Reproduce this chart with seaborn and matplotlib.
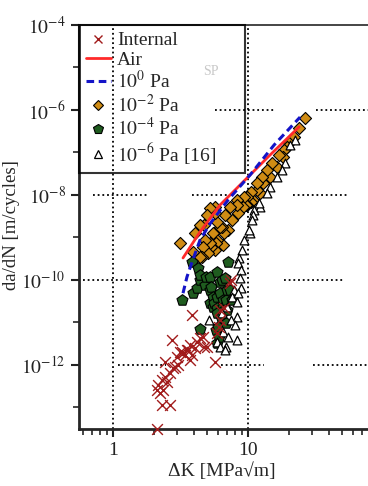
import matplotlib
matplotlib.use("Agg")
import matplotlib.pyplot as plt
import numpy as np
import pandas as pd
import seaborn as sns
from matplotlib.lines import Line2D
from matplotlib.ticker import FixedLocator, NullFormatter

# Internal cracks (crosses)
internal_dk = [2.12, 2.31, 2.64, 2.12, 2.23, 2.35, 2.15, 2.31, 2.43, 2.51, 2.64, 2.74,
               2.43, 2.78, 2.88, 3.03, 2.98, 3.14, 3.24, 3.41, 3.30, 3.53, 3.59, 3.72,
               3.72, 3.85, 3.85, 4.05, 4.19, 4.41, 4.64, 4.97, 4.72, 5.70, 5.89, 6.10,
               6.20, 6.20, 6.64, 7.36, 7.48]
internal_dadn = [3.1e-14, 1.15e-13, 1.15e-13, 2.6e-13, 2.2e-13, 2.6e-13, 3.4e-13, 4.4e-13,
                 5.2e-13, 4.0e-13, 6.5e-13, 3.9e-12, 1.18e-12, 8.5e-13, 9.0e-13, 1.0e-12,
                 1.54e-12, 2.0e-12, 2.0e-12, 1.72e-12, 1.9e-12, 2.25e-12, 2.25e-12, 3.0e-12,
                 1.31e-12, 1.72e-12, 1.5e-11, 2.5e-12, 3.5e-12, 4.3e-12, 4.6e-12, 2.65e-12,
                 2.65e-12, 1.18e-12, 5.7e-12, 7.8e-12, 2.0e-11, 1.15e-11, 2.2e-11, 8.5e-11,
                 1.0e-10]

# Air (solid red line)
air_dk = [3.30, 4.41, 6.20, 9.50, 14.55, 23.9]
air_dadn = [3.3e-10, 1.35e-9, 5.8e-9, 2.25e-8, 8.7e-8, 4.0e-7]

# 10^0 Pa (dashed blue line)
p0_dk = [3.30, 3.53, 3.85, 4.41, 5.23, 7.11, 10.35, 15.6, 24.3]
p0_dadn = [4.9e-11, 1.18e-10, 2.65e-10, 8.7e-10, 2.1e-9, 7.6e-9, 2.95e-8, 1.5e-7, 6.8e-7]

# 10^-2 Pa (diamonds)
p2_dk = [26.4, 23.9, 21.9, 20.1, 19.5, 18.5, 18.2, 17.0, 16.4, 15.1, 14.6, 13.8, 12.9,
         12.7, 12.3, 11.7, 11.7, 10.9, 10.5, 10.5, 9.84, 9.84, 9.67, 9.34, 9.18, 8.43,
         8.29, 8.29, 7.61, 7.36, 7.11, 6.76, 6.64, 6.53, 6.42, 6.20, 5.89, 5.89, 5.79,
         5.70, 5.70, 5.70, 5.50, 5.32, 5.23, 5.23, 5.05, 4.97, 4.80, 4.72, 4.64, 4.56,
         4.41, 4.41, 4.05, 3.91, 3.14]
p2_dadn = [6.5e-7, 3.8e-7, 2.3e-7, 1.7e-7, 1.35e-7, 1.15e-7, 7.8e-8, 8.7e-8, 4.6e-8,
           5.7e-8, 2.65e-8, 3.9e-8, 1.9e-8, 2.65e-8, 1.1e-8, 1.3e-8, 1.9e-8, 7.6e-9,
           1.18e-8, 6.8e-9, 9.0e-9, 5.8e-9, 5.8e-9, 9.0e-9, 5.2e-9, 3.8e-9, 7.6e-9,
           5.8e-9, 2.6e-9, 5.2e-9, 1.5e-9, 3.4e-9, 1.3e-9, 6.7e-10, 1.8e-9, 1.8e-9,
           2.3e-9, 8.7e-10, 7.4e-10, 5.2e-9, 3.8e-9, 5.1e-10, 1.3e-9, 6.0e-10, 4.9e-9,
           7.4e-10, 4.3e-10, 3.4e-9, 8.7e-10, 2.0e-9, 6.0e-10, 3.5e-10, 2.0e-9, 3.5e-10,
           1.3e-9, 4.6e-10, 7.4e-10]

# 10^-4 Pa (pentagons)
p4_dk = [3.24, 3.85, 3.91, 4.19, 4.26, 4.38, 4.41, 4.41, 4.80, 4.89, 5.23, 5.23, 5.23,
         5.32, 5.50, 5.50, 5.60, 5.79, 5.89, 5.89, 5.89, 5.89, 5.89, 6.00, 6.10, 6.20,
         6.20, 6.31, 6.42, 6.53, 6.53, 6.64, 6.76, 6.87, 6.87, 6.99, 6.99, 7.11, 7.36,
         7.61]
p4_dadn = [3.4e-11, 2.65e-10, 4.9e-11, 6.5e-11, 1.9e-10, 7.2e-12, 1.0e-10, 1.31e-10,
           7.6e-11, 1.18e-10, 1.18e-10, 5.8e-11, 2.9e-11, 6.8e-11, 4.0e-11, 2.3e-11,
           2.9e-11, 6.7e-12, 1.54e-10, 4.0e-11, 2.2e-11, 1.7e-11, 3.3e-12, 7.8e-12,
           4.6e-12, 9.0e-11, 4.9e-11, 1.35e-11, 1.0e-10, 3.4e-11, 2.3e-11, 2.0e-11,
           1.11e-10, 3.4e-11, 9.7e-12, 5.8e-11, 2.0e-11, 2.65e-10, 5.8e-11, 3.4e-11]

# 10^-6 Pa [16] (open triangles)
p6_dk = [22.3, 20.5, 18.8, 17.9, 16.4, 14.6, 13.8, 12.3, 12.1, 11.1, 10.9, 10.7, 10.35,
         10.2, 9.34, 9.03, 8.58, 8.43, 8.88, 8.72, 8.88, 7.88, 7.61, 8.43, 8.29, 6.99,
         8.29, 7.48, 6.42, 5.14, 8.01, 6.53, 7.11, 8.29, 5.89, 6.20, 6.87, 6.76]
p6_dadn = [2.0e-7, 1.5e-7, 5.7e-8, 3.9e-8, 2.65e-8, 1.54e-8, 1.1e-8, 5.2e-9, 6.5e-9,
           4.4e-9, 3.4e-9, 2.6e-9, 1.28e-9, 1.5e-9, 8.7e-10, 5.1e-10, 3.3e-10, 2.5e-10,
           1.72e-10, 1.11e-10, 6.5e-11, 5.8e-11, 4.0e-11, 4.9e-11, 3.0e-11, 2.3e-11,
           1.35e-11, 1.15e-11, 1.7e-11, 1.15e-11, 8.7e-12, 6.0e-12, 4.6e-12, 3.9e-12,
           3.5e-12, 2.65e-12, 2.65e-12, 2.25e-12]

y_major = [1e-4, 1e-6, 1e-8, 1e-10, 1e-12]
y_minor = [1e-5, 1e-7, 1e-9, 1e-11, 1e-13]
x_major = [1, 10]
x_minor = [0.6, 0.7, 0.8, 0.9, 2, 3, 4, 5, 6, 7, 8, 9, 20, 30, 40, 50, 60, 70]

c_int = '#a11c1c'
c_air = '#ff2a2a'
c_p0 = '#1414c8'
c_p2 = '#d08c14'
c_p4 = '#1f5c1f'

sns.set_style('ticks')
plt.rcParams['font.family'] = ['Liberation Serif', 'DejaVu Serif']
plt.rcParams['mathtext.fontset'] = 'stix'

fig = plt.figure(figsize=(3.68, 4.86), dpi=100)
ax = fig.add_axes([0.2147, 0.1173, 0.7853, 0.8313])
ax.set_xscale('log')
ax.set_yscale('log')
ax.set_xlim(0.56, 77.4)
ax.set_ylim(3.12e-14, 1e-4)

# dotted reference lines
for xv in x_major:
    ax.axvline(xv, color='black', ls=(0, (1, 1.6)), lw=1.3, zorder=1)
grid_segs = {1e-6: [(0.47, 0.675), (0.82, 1.0)],
             1e-8: [(0.05, 0.24), (0.39, 0.52), (0.74, 0.93)],
             1e-10: [(0.014, 0.22), (0.71, 0.92)],
             1e-12: [(0.135, 0.30), (0.49, 0.64), (0.81, 1.0)]}
for yv, segs in grid_segs.items():
    for a, b in segs:
        ax.axhline(yv, a, b, color='black', ls=(0, (1, 1.6)), lw=1.3, zorder=1)

sns.scatterplot(x=p2_dk, y=p2_dadn, ax=ax, marker='D', s=38, color=c_p2,
                edgecolor='black', linewidth=0.8, zorder=3)
sns.scatterplot(x=p4_dk, y=p4_dadn, ax=ax, marker='p', s=70, color=c_p4,
                edgecolor='black', linewidth=0.8, zorder=3)
sns.scatterplot(x=p6_dk, y=p6_dadn, ax=ax, marker='^', s=40, color='white',
                edgecolor='black', linewidth=0.9, zorder=4)
sns.scatterplot(x=internal_dk, y=internal_dadn, ax=ax, marker='x', s=60, color=c_int,
                linewidth=1.0, zorder=5, clip_on=False)
sns.lineplot(x=air_dk, y=air_dadn, ax=ax, color=c_air, lw=2.0, estimator=None,
             sort=False, zorder=6)
sns.lineplot(x=p0_dk, y=p0_dadn, ax=ax, color=c_p0, lw=2.2, estimator=None,
             sort=False, zorder=6, linestyle=(0, (2.5, 1.5)))

ax.yaxis.set_major_locator(FixedLocator(y_major))
ax.yaxis.set_minor_locator(FixedLocator(y_minor))
ax.yaxis.set_minor_formatter(NullFormatter())
ax.xaxis.set_major_locator(FixedLocator(x_major))
ax.xaxis.set_minor_locator(FixedLocator(x_minor))
ax.xaxis.set_minor_formatter(NullFormatter())
ax.set_xticklabels(['1', '10'])
ax.set_yticklabels([r'$10^{-4}$', r'$10^{-6}$', r'$10^{-8}$', r'$10^{-10}$', r'$10^{-12}$'])
ax.tick_params(which='major', length=6, width=1.5, labelsize=14, colors='#222222')
ax.tick_params(which='minor', length=4, width=1.2)

for side in ['left', 'bottom']:
    ax.spines[side].set_linewidth(2.0)
ax.spines['top'].set_linewidth(1.2)
ax.spines['right'].set_visible(False)

ax.set_xlabel('ΔK [MPa√m]', fontsize=14)
ax.set_ylabel('da/dN [m/cycles]', fontsize=13.5)
ax.xaxis.set_label_coords(0.495, -0.082)
ax.yaxis.set_label_coords(-0.205, 0.505)

handles = [
    Line2D([], [], marker='x', color=c_int, ls='none', ms=6, mew=1.0),
    Line2D([], [], color=c_air, lw=2.0),
    Line2D([], [], color=c_p0, lw=2.2, ls=(0, (2.5, 1.5))),
    Line2D([], [], marker='D', color=c_p2, mec='black', mew=0.8, ls='none', ms=5),
    Line2D([], [], marker='p', color=c_p4, mec='black', mew=0.8, ls='none', ms=7),
    Line2D([], [], marker='^', color='white', mec='black', mew=0.9, ls='none', ms=6),
]
labels = ['Internal', 'Air', r'$10^{0}$ Pa', r'$10^{-2}$ Pa', r'$10^{-4}$ Pa',
          r'$10^{-6}$ Pa [16]']
leg = ax.legend(handles, labels, loc='upper left', bbox_to_anchor=(0, 1, 0.574, 0),
                mode='expand', borderaxespad=0, fontsize=14, handlelength=1.3,
                handletextpad=0.3, labelspacing=0.08, borderpad=0.35,
                fancybox=False, frameon=True)
leg.get_frame().set_facecolor('none')
leg.get_frame().set_edgecolor('black')
leg.get_frame().set_linewidth(1.5)
leg.set_zorder(10)

ax.text(0.455, 0.885, 'SP', transform=ax.transAxes, fontsize=10, color='#c8c8c8',
        ha='center', va='center')

fig.savefig('out.png', dpi=100)
